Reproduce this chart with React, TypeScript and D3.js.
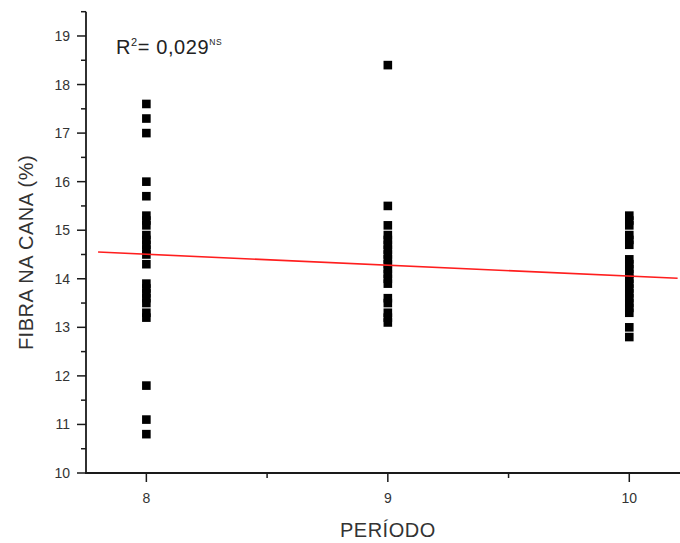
import React from "react";
import * as d3 from "d3";

// Data
const periods = [8, 9, 10];
const fibra8 = [17.6, 17.3, 17.0, 16.0, 15.7, 15.3, 15.2, 15.1, 14.9, 14.8, 14.7, 14.6, 14.5, 14.3, 13.9, 13.8, 13.7, 13.6, 13.5, 13.3, 13.2, 11.8, 11.1, 10.8];
const fibra9 = [18.4, 15.5, 15.1, 14.9, 14.8, 14.7, 14.6, 14.5, 14.4, 14.3, 14.2, 14.1, 14.0, 13.9, 13.6, 13.5, 13.3, 13.2, 13.1];
const fibra10 = [15.3, 15.2, 15.1, 14.9, 14.8, 14.7, 14.4, 14.3, 14.2, 14.1, 14.0, 13.9, 13.8, 13.7, 13.6, 13.5, 13.4, 13.3, 13.0, 12.8];
const fitX = [7.8, 10.2];
const fitY = [14.55, 14.01];
const yTicks = [10, 11, 12, 13, 14, 15, 16, 17, 18, 19];
const yMinorTicks = [10.5, 11.5, 12.5, 13.5, 14.5, 15.5, 16.5, 17.5, 18.5, 19.5];
const xTicks = [8, 9, 10];
const xMinorTicks = [8.5, 9.5];
const yTitle = "FIBRA NA CANA (%)";
const xTitle = "PERÍODO";

const W = 680;
const H = 543;
const font = "'Liberation Sans', Arial, sans-serif";

export default function App() {
  const x = d3.scaleLinear().domain([7.75, 10.21]).range([86, 680]);
  const y = d3.scaleLinear().domain([10, 19.5]).range([473, 11.7]);
  const series = [fibra8, fibra9, fibra10];
  const line = d3
    .line<number>()
    .x((_, i) => x(fitX[i]))
    .y((d) => y(d));
  const axisColor = "#1a1a1a";
  const labelColor = "#333";
  const ms = 8.6;

  return (
    <svg
      width={W}
      height={H}
      style={{ position: "absolute", left: 0, top: 0, background: "#fff" }}
    >
      <rect x={0} y={0} width={W} height={H} fill="#fff" />
      {/* points */}
      {series.map((vals, si) =>
        vals.map((v, i) => (
          <rect
            key={`p${si}-${i}`}
            x={x(periods[si]) - ms / 2}
            y={y(v) - ms / 2}
            width={ms}
            height={ms}
            fill="#000"
          />
        ))
      )}
      {/* regression line */}
      <path d={line(fitY) || ""} fill="none" stroke="#ff1e1e" strokeWidth={1.6} />

      {/* y axis */}
      <line x1={86} x2={86} y1={y(19.5)} y2={y(10) + 1} stroke={axisColor} strokeWidth={1.8} />
      {yTicks.map((t) => (
        <g key={`yt${t}`}>
          <line x1={77} x2={86} y1={y(t)} y2={y(t)} stroke={axisColor} strokeWidth={1.5} />
          <text
            x={70}
            y={y(t)}
            dy="0.36em"
            textAnchor="end"
            fontFamily={font}
            fontSize={14}
            fill={labelColor}
          >
            {t}
          </text>
        </g>
      ))}
      {yMinorTicks.map((t) => (
        <line key={`ym${t}`} x1={81} x2={86} y1={y(t)} y2={y(t)} stroke={axisColor} strokeWidth={1.5} />
      ))}

      {/* x axis */}
      <line x1={85} x2={680} y1={473} y2={473} stroke={axisColor} strokeWidth={1.8} />
      {xTicks.map((t) => (
        <g key={`xt${t}`}>
          <line x1={x(t)} x2={x(t)} y1={473} y2={482} stroke={axisColor} strokeWidth={1.5} />
          <text
            x={x(t)}
            y={503}
            textAnchor="middle"
            fontFamily={font}
            fontSize={14}
            fill={labelColor}
          >
            {t}
          </text>
        </g>
      ))}
      {xMinorTicks.map((t) => (
        <line key={`xm${t}`} x1={x(t)} x2={x(t)} y1={473} y2={478} stroke={axisColor} strokeWidth={1.5} />
      ))}

      {/* titles */}
      <text
        x={x(9)}
        y={537}
        textAnchor="middle"
        fontFamily={font}
        fontSize={20}
        letterSpacing={0.5}
        fill={labelColor}
      >
        {xTitle}
      </text>
      <text
        transform="translate(33,252.5) rotate(-90)"
        textAnchor="middle"
        fontFamily={font}
        fontSize={20}
        letterSpacing={0.5}
        fill={labelColor}
      >
        {yTitle}
      </text>

      {/* R² annotation */}
      <text x={116} y={54} fontFamily={font} fontSize={20} letterSpacing={0.6} fill="#222">
        <tspan>R</tspan>
        <tspan fontSize={11} dy={-8}>2</tspan>
        <tspan dy={8}>= 0,029</tspan>
        <tspan fontSize={8.5} dy={-9}>NS</tspan>
      </text>
    </svg>
  );
}
